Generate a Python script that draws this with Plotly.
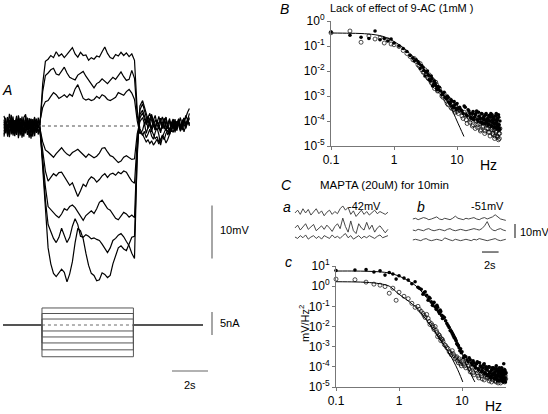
import numpy as np
import plotly.graph_objects as go

W, H = 548, 414
def px(x): return x / W
def py(y): return 1 - y / H

FONT = "Liberation Sans, Arial, sans-serif"

# ---------------- Panel A : voltage responses (mV) ----------------
A_T_PRE = [0.0, 0.1, 0.2, 0.3, 0.4, 0.5, 0.6, 0.7, 0.8, 0.9, 1.0, 1.1, 1.2, 1.3, 1.4, 1.5, 1.6, 1.7, 1.8, 1.9, 2.0]
A_T_STEP = [2.15, 2.3, 2.45, 2.6, 2.75, 2.9, 3.05, 3.2, 3.35, 3.5, 3.65, 3.8, 3.95, 4.1, 4.25, 4.4, 4.55, 4.7,
            4.85, 5.0, 5.15, 5.3, 5.45, 5.6, 5.75, 5.9, 6.05, 6.2, 6.35, 6.5, 6.65, 6.8, 6.95, 7.1, 7.25, 7.4, 7.55]
A_T_POST = [7.7, 7.8, 7.9, 8.0, 8.1, 8.2, 8.3, 8.4, 8.5, 8.6, 8.7, 8.8, 8.9, 9.0, 9.1, 9.2, 9.3, 9.4, 9.5,
            9.6, 9.7, 9.8, 9.9, 10.0, 10.1, 10.2, 10.3]

UP1_PRE = [0.8, -1.2, 1.5, -0.4, 0.9, -1.8, 0.3, 1.9, -0.7, 0.5, -1.5, 1.1, -0.2, 0.7, -1.9, 1.3, -0.6, 0.4, -1.1, 1.6, 0.2]
UP1_STEP = [8.0, 12.2,
            12.6, 13.3, 12.9, 14.0, 13.2, 13.6, 12.9, 13.5, 14.2, 14.8, 13.6, 13.0, 13.9, 13.3, 13.4, 12.4, 12.9,
            12.6, 13.2, 13.0, 14.0, 14.9, 13.7, 12.9, 12.7, 13.5, 13.2, 13.9, 13.3, 13.8, 13.1, 13.6, 12.4,
            3.0, -0.5]
UP1_POST = [-1.5, -2.4, -3.0, -2.6, -3.3, -2.8, -3.6, -3.1, -2.5, -3.4, -2.7, -1.9, -2.6, -1.4, -0.8, -1.6,
            -0.5, 0.6, -0.9, 0.2, 1.1, -0.4, 0.8, 1.5, 0.3, 1.2, 0.4]

UP2_PRE = [-1.0, 0.6, -1.7, 1.2, -0.3, 1.8, -1.3, 0.1, 1.4, -0.9, 0.8, -2.0, 0.9, -0.5, 1.5, -1.2, 0.6, 1.7, -0.8, -0.1, 0.5]
UP2_STEP = [6.5, 9.5,
            10.0, 10.6, 10.9, 9.8, 9.6, 10.4, 11.1, 10.0, 9.2, 8.9, 8.7, 9.6, 10.0, 10.3, 9.4, 8.6, 7.8, 7.2,
            8.0, 8.3, 8.9, 8.5, 8.0, 8.6, 9.2, 8.8, 9.4, 10.2, 9.3, 8.6, 8.8, 10.5, 9.0,
            2.0, -1.0]
UP2_POST = [-1.8, -1.0, -2.2, -1.5, -0.6, -1.9, -2.5, -1.2, -0.3, -1.6, -3.6, -2.1, -1.3, -0.4, -1.7, -0.9,
            0.5, -0.6, 1.0, -0.2, 0.7, -0.8, 1.2, 0.3, -0.5, 0.9, 1.6]

UP3_PRE = [1.9, 0.2, -0.9, 2.3, 0.4, -1.4, 1.0, -0.6, 2.0, 0.3, -1.0, 1.6, 2.2, -0.7, 0.2, 1.4, -1.5, 0.8, 1.2, -0.4, 0.9]
UP3_STEP = [3.5, 4.6,
            4.8, 5.6, 6.3, 5.9, 5.2, 5.5, 5.9, 5.4, 6.0, 5.6, 7.0, 7.8, 6.4, 5.2, 4.9, 5.1, 4.8, 5.0, 5.6, 5.2,
            5.9, 5.6, 5.0, 4.8, 5.1, 5.4, 6.3, 6.1, 5.8, 6.5, 6.9, 6.2, 5.0,
            1.0, -1.5]
UP3_POST = [-0.8, 0.6, -1.4, -0.3, 0.9, -1.1, 0.3, -0.7, 1.2, -0.2, -1.3, 0.5, -0.6, 1.0, 0.0, -1.4, 0.7,
            -0.3, 1.3, -0.9, 0.4, 1.6, -0.4, 0.8, 2.0, 1.1, 2.4]

DN1_PRE = [-1.6, 0.9, -0.2, -2.1, 1.1, -0.8, -1.9, 0.6, -1.3, 1.0, -2.2, -0.4, 0.5, -1.7, 0.3, -2.4, 0.1, -1.0, 0.7, -1.6, -0.6]
DN1_STEP = [-3.0, -4.5,
            -4.9, -5.4, -5.9, -5.2, -4.6, -4.1, -4.8, -5.3, -5.6, -5.0, -4.7, -4.4, -4.9, -5.5, -5.9, -5.3, -5.6,
            -6.0, -5.7, -5.1, -4.2, -4.1, -4.9, -5.6, -5.8, -6.3, -6.9, -6.6, -5.9, -5.6, -6.0, -6.3, -6.2,
            -1.5, 0.8]
DN1_POST = [1.6, 0.4, 1.2, -0.5, 0.8, 1.9, 0.2, -0.8, 1.0, 0.3, 1.5, -0.4, 0.6, 1.7, -0.6, 0.9, 0.1, 1.2,
            -0.9, 0.5, 1.4, -0.3, 0.7, -1.1, 0.4, 1.3, 0.0]

DN2_PRE = [0.4, -1.4, 1.7, 0.0, -0.9, 1.2, -1.6, 0.8, -0.3, 1.5, 0.2, -1.2, 1.9, -0.8, 0.6, -0.1, 1.3, -1.9, 0.4, 1.0, -0.9]
DN2_STEP = [-5.0, -8.5,
            -10.4, -9.6, -9.0, -9.4, -8.8, -8.7, -9.6, -10.5, -11.2, -10.7, -12.0, -13.3, -12.2, -11.0, -11.4,
            -10.2, -9.6, -9.9, -10.6, -10.1, -9.4, -9.0, -9.7, -9.1, -8.9, -9.3, -8.7, -9.0, -8.5, -8.7, -9.6,
            -10.4, -10.8,
            -3.0, 1.5]
DN2_POST = [2.5, 1.3, 0.2, 1.8, 0.6, -0.4, 1.1, 2.0, 0.3, -0.6, 0.9, 1.7, 0.0, -0.9, 0.5, 1.4, -0.2, 0.8,
            -1.2, 0.3, 1.0, -0.7, 0.6, 1.5, -0.3, 0.9, 0.2]

DN3_PRE = [-0.5, 1.6, -2.0, 0.7, 1.4, -1.1, 0.2, -1.7, 1.1, -0.6, 1.8, -1.4, -0.2, 1.0, -2.2, 0.8, -0.3, 1.5, -1.3, 0.3, -1.2]
DN3_STEP = [-6.5, -11.5,
            -15.2, -15.8, -16.4, -16.9, -17.3, -16.6, -15.6, -15.9, -15.2, -14.9, -15.4, -16.2, -17.2, -17.8,
            -16.9, -16.5, -16.0, -16.5, -15.6, -14.4, -14.0, -14.8, -15.6, -15.9, -16.6, -17.4, -17.7, -16.9,
            -16.3, -16.6, -17.2, -16.8, -17.3,
            -4.0, 2.2]
DN3_POST = [3.0, 2.1, 0.8, 1.6, 2.4, 1.0, -0.1, 1.2, 0.4, 1.8, 0.7, -0.5, 0.9, 1.6, 0.1, -0.8, 0.6, 1.3,
            -0.4, 0.9, 0.2, -1.0, 0.5, 1.1, -0.2, 0.6, 1.4]

DN4_PRE = [1.2, -0.6, 0.4, -1.5, 2.1, -0.2, 1.1, -1.0, 0.5, -1.8, 0.9, 0.1, -1.4, 1.6, -0.5, 0.6, -2.0, 1.0, -0.2, 0.8, 0.3]
DN4_STEP = [-7.5, -14.0,
            -18.6, -20.0, -21.2, -22.0, -21.0, -19.3, -20.5, -22.0, -21.0, -18.9, -17.5, -18.6, -20.8, -21.0,
            -20.5, -20.8, -21.3, -21.1, -21.4, -21.6, -22.3, -23.2, -23.9, -23.0, -21.6, -21.2, -20.6, -20.3,
            -20.9, -21.8, -22.6, -24.0, -25.0,
            -5.0, 3.0]
DN4_POST = [4.2, 3.0, 1.6, 0.5, 1.4, 2.2, 0.9, -0.3, 1.0, 0.2, -0.9, 0.6, 1.5, -0.4, 0.3, 1.0, -1.1, 0.2,
            0.9, -0.5, 1.3, 0.1, -0.8, 0.7, 1.9, 2.6, 3.3]

DN5_PRE = [-2.0, 0.3, -0.7, 1.0, -1.6, 0.7, -0.4, 1.3, -2.3, 0.0, -0.8, 1.2, -1.0, -0.3, 1.1, -1.4, 0.9, -0.9, 1.4, -1.1, -0.3]
DN5_STEP = [-8.5, -16.5,
            -23.0, -26.0, -27.8, -28.4, -27.6, -27.0, -27.6, -29.4, -27.9, -25.6, -22.0, -19.3, -19.8, -21.3,
            -24.0, -26.3, -27.8, -28.2, -29.2, -29.0, -27.7, -28.0, -28.6, -28.2, -26.0, -24.5, -23.0, -22.6,
            -23.2, -23.5, -22.4, -21.0, -20.8,
            -6.0, 3.8]
DN5_POST = [4.8, 3.6, 2.2, 1.0, 0.0, -0.8, -1.6, -2.4, -2.0, -3.0, -2.6, -1.7, -2.2, -3.2, -2.5, -1.5, -0.6,
            -1.2, 0.2, -0.5, 0.8, -0.2, 0.6, 1.4, 0.3, 1.0, 0.5]

A_TRACES = [
    (UP1_PRE, UP1_STEP, UP1_POST), (UP2_PRE, UP2_STEP, UP2_POST), (UP3_PRE, UP3_STEP, UP3_POST),
    (DN1_PRE, DN1_STEP, DN1_POST), (DN2_PRE, DN2_STEP, DN2_POST), (DN3_PRE, DN3_STEP, DN3_POST),
    (DN4_PRE, DN4_STEP, DN4_POST), (DN5_PRE, DN5_STEP, DN5_POST),
]

# current steps (nA)
I_LEVELS = [3.7, 2.5, 1.3, 0.0, -1.3, -2.6, -3.9, -5.4, -6.9]
T_START, STEP_ON, STEP_OFF, T_END = -0.05, 2.11, 7.19, 11.05

# ---------------- Panels B / C : power spectra ----------------
FREQ = [0.1, 0.2, 0.3, 0.4, 0.5, 0.6, 0.7, 0.8, 0.9, 1.0, 1.2, 1.4, 1.6, 1.8, 2.0,
        2.25, 2.5, 2.75, 3.0, 3.25, 3.5, 3.75, 4.0, 4.25, 4.5, 4.75, 5.0, 5.5, 6.0, 6.5, 7.0, 7.5, 8.0, 8.5,
        9.0, 9.5, 10.0,
        11, 12, 13, 14, 15, 16, 17, 18, 19, 20, 21, 22, 23, 24, 25, 26, 27, 28, 29, 30, 31, 32, 33, 34, 35,
        36, 37, 38, 39, 40, 41, 42, 43, 44, 45, 46, 47, 48, 49, 50]
FREQ2 = [2.1, 2.4, 2.6, 2.9, 3.1, 3.4, 3.6, 3.9, 4.1, 4.4, 4.6, 4.9, 5.25, 5.75, 6.25, 6.75, 7.25, 7.75, 8.25,
         8.75, 9.25, 9.75,
         10.5, 11.5, 12.5, 13.5, 14.5, 15.5, 16.5, 17.5, 18.5, 19.5, 20.5, 21.5, 22.5, 23.5, 24.5, 25.5, 26.5,
         27.5, 28.5, 29.5, 30.5, 31.5, 32.5, 33.5, 34.5, 35.5, 36.5, 37.5, 38.5, 39.5, 40.5, 41.5, 42.5, 43.5,
         44.5, 45.5, 46.5, 47.5, 48.5, 49.5]

# log10 of power (mV^2/Hz)
B_OPEN_LOG = [-0.47, -0.40, -0.85, -0.60, -0.72, -0.68, -0.88, -0.75, -0.92, -0.95, -1.02, -1.18, -1.30, -1.42, -1.55,
              -1.62, -1.80, -1.95, -2.05, -2.10, -2.30, -2.25, -2.50, -2.42, -2.62, -2.55, -2.78, -2.85, -3.05,
              -3.12, -3.30, -3.20, -3.45, -3.35, -3.55, -3.40, -3.62,
              -3.55, -3.80, -3.65, -3.95, -3.72, -4.05, -3.85, -4.15, -3.78, -4.00, -4.25, -3.90, -4.10, -4.35,
              -3.95, -4.20, -4.05, -4.40, -3.88, -4.15, -4.30, -4.02, -4.45, -4.18, -3.92, -4.28, -4.50, -4.10,
              -4.35, -4.60, -4.05, -4.40, -4.25, -4.65, -4.15, -4.50, -4.70, -4.30, -4.55, -4.75]
B_OPEN_LOG2 = [-1.50, -1.75, -1.70, -2.05, -1.95, -2.25, -2.15, -2.45, -2.35, -2.70, -2.45, -2.80, -2.70, -3.00,
               -2.90, -3.20, -3.35, -3.15, -3.50, -3.30, -3.65, -3.45,
               -3.70, -3.60, -3.90, -3.75, -4.10, -3.85, -3.95, -4.20, -3.80, -4.30, -4.00, -4.15, -3.85, -4.40,
               -4.05, -4.25, -3.95, -4.50, -4.10, -4.30, -4.00, -4.45, -4.20, -4.60, -4.05, -4.35, -4.15, -4.55,
               -4.25, -4.70, -4.10, -4.45, -4.30, -4.60, -4.20, -4.75, -4.35, -4.50, -4.65, -4.40]
B_FILL_LOG = [-0.44, -0.57, -0.65, -0.70, -0.40, -0.75, -0.70, -0.80, -0.72, -0.88, -1.00, -1.10, -1.22, -1.38, -1.48,
              -1.55, -1.70, -1.78, -1.98, -2.05, -2.15, -2.40, -2.30, -2.55, -2.48, -2.70, -2.62, -2.80, -2.92,
              -3.05, -3.00, -3.25, -3.15, -3.40, -3.22, -3.48, -3.30,
              -3.45, -3.60, -3.40, -3.75, -3.55, -3.70, -3.90, -3.62, -3.85, -3.70, -3.95, -3.65, -3.88, -4.05,
              -3.72, -3.92, -3.80, -4.10, -3.70, -3.95, -4.15, -3.78, -4.00, -3.85, -4.20, -3.75, -4.05, -3.90,
              -4.25, -3.80, -4.10, -3.70, -4.30, -3.95, -4.15, -3.85, -4.35, -4.00, -4.20, -4.40]
B_FILL_LOG2 = [-1.60, -1.62, -1.90, -1.85, -2.20, -2.00, -2.35, -2.20, -2.60, -2.40, -2.58, -2.75, -2.65, -2.95,
               -2.85, -3.10, -3.05, -3.30, -3.20, -3.45, -3.35, -3.55,
               -3.50, -3.55, -3.70, -3.45, -3.80, -3.60, -3.85, -3.70, -3.95, -3.75, -3.60, -4.00, -3.80, -3.90,
               -3.70, -4.10, -3.85, -3.95, -3.75, -4.05, -3.90, -4.15, -3.80, -4.00, -3.70, -4.20, -3.95, -3.85,
               -4.10, -3.95, -4.25, -3.80, -4.05, -3.90, -4.20, -3.75, -4.15, -4.30, -3.95, -4.10]
B_FIT_F = [0.1, 0.2, 0.3, 0.5, 0.7, 1.0, 1.5, 2.0, 3.0, 4.0, 5.0, 6.0, 7.0, 8.0, 10.0, 12.9]
B_FIT_LOG = [-0.48, -0.49, -0.50, -0.55, -0.63, -0.82, -1.12, -1.42, -1.92, -2.30, -2.65, -2.95, -3.20, -3.45, -4.00, -4.62]

C_FILL_LOG = [0.78, 0.80, 0.82, 0.70, 0.76, 0.55, 0.68, 0.60, 0.35, 0.52, 0.40, 0.30, 0.12, 0.22, -0.05,
              -0.15, -0.32, -0.45, -0.55, -0.78, -0.85, -1.02, -0.95, -1.25, -1.18, -1.45, -1.50, -1.72, -1.95,
              -2.20, -2.35, -2.55, -2.70, -2.90, -3.05, -3.10, -3.25,
              -3.45, -3.65, -3.55, -3.80, -3.70, -3.95, -3.85, -4.10, -3.80, -4.00, -4.20, -3.90, -4.30, -4.00,
              -4.15, -4.40, -4.00, -4.25, -4.45, -4.05, -4.35, -4.55, -4.10, -4.40, -3.95, -4.60, -4.20, -4.45,
              -4.05, -4.65, -4.25, -4.50, -4.15, -4.70, -4.30, -3.85, -4.55, -4.20, -4.75, -4.35]
C_FILL_LOG2 = [-0.10, -0.40, -0.28, -0.70, -0.60, -0.95, -0.80, -1.15, -1.05, -1.35, -1.25, -1.60, -1.55, -1.85,
               -2.05, -2.25, -2.45, -2.60, -2.85, -2.95, -3.20, -3.30,
               -3.55, -3.50, -3.75, -3.65, -3.90, -3.80, -4.05, -3.75, -4.15, -3.95, -4.25, -4.05, -3.85, -4.35,
               -4.10, -4.45, -4.00, -4.30, -4.55, -4.15, -4.40, -4.05, -4.60, -4.25, -4.50, -4.10, -4.70, -4.30,
               -4.45, -4.15, -4.65, -4.35, -4.05, -4.55, -4.25, -4.75, -4.40, -4.15, -4.60, -4.30]
C_OPEN_LOG = [0.35, 0.32, 0.20, 0.10, 0.05, -0.02, -0.35, -0.10, -0.70, -0.30, -0.50, -0.62, -0.85, -1.05, -1.00,
              -1.25, -1.45, -1.40, -1.75, -1.85, -2.05, -2.00, -2.30, -2.40, -2.55, -2.62, -2.75, -2.95, -3.10,
              -3.30, -3.20, -3.45, -3.55, -3.70, -3.60, -3.85, -3.75,
              -3.95, -3.80, -4.10, -4.00, -4.30, -3.90, -4.20, -4.45, -4.10, -4.35, -4.60, -4.20, -4.40, -4.05,
              -4.55, -4.30, -4.70, -4.15, -4.45, -4.25, -4.65, -4.35, -4.10, -4.55, -4.75, -4.30, -4.50, -4.20,
              -4.65, -4.40, -4.80, -4.25, -4.55, -4.35, -4.70, -4.15, -4.45, -4.60, -4.30, -4.75]
C_OPEN_LOG2 = [-1.15, -1.35, -1.55, -1.60, -1.90, -1.95, -2.15, -2.20, -2.50, -2.45, -2.70, -2.65, -2.90, -3.05,
               -3.25, -3.40, -3.35, -3.60, -3.50, -3.80, -3.70, -3.95,
               -3.85, -4.05, -3.95, -4.25, -4.05, -4.40, -4.15, -4.30, -4.55, -4.20, -4.45, -4.10, -4.65, -4.35,
               -4.25, -4.50, -4.15, -4.60, -4.40, -4.75, -4.30, -4.50, -4.20, -4.70, -4.45, -4.35, -4.60, -4.80,
               -4.25, -4.55, -4.40, -4.70, -4.30, -4.50, -4.65, -4.20, -4.55, -4.75, -4.45, -4.60]
C_FIT_FILL_F = [0.1, 0.2, 0.3, 0.5, 0.7, 1.0, 1.5, 2.0, 3.0, 4.0, 5.0, 6.0, 7.0, 8.0, 10.0, 12.0, 14.0, 16.0]
C_FIT_FILL_LOG = [0.75, 0.75, 0.74, 0.71, 0.65, 0.50, 0.22, -0.08, -0.72, -1.22, -1.60, -1.88, -2.20, -2.55, -3.35, -3.95, -4.40, -4.75]
C_FIT_OPEN_F = [0.1, 0.2, 0.3, 0.5, 0.7, 1.0, 1.5, 2.0, 3.0, 4.0, 5.0, 6.0, 7.0, 8.0, 9.0, 10.3]
C_FIT_OPEN_LOG = [0.22, 0.21, 0.19, 0.12, 0.0, -0.40, -0.80, -1.15, -1.85, -2.40, -2.85, -3.25, -3.60, -3.95, -4.30, -4.75]

# ---------------- Panel C a/b : voltage traces (mV) ----------------
CA_T = [0.6, 0.92, 1.24, 1.56, 1.88, 2.2, 2.52, 2.84, 3.16, 3.48, 3.8, 4.12, 4.44, 4.76, 5.08, 5.4, 5.72, 6.04,
        6.36, 6.68, 7.0, 7.32, 7.64, 7.96, 8.28, 8.6, 8.92, 9.24, 9.56, 9.88, 10.2, 10.52, 10.84, 11.16, 11.48, 11.8]
CB_T = [14.8, 15.12, 15.44, 15.76, 16.08, 16.4, 16.72, 17.04, 17.36, 17.68, 18.0, 18.32, 18.64, 18.96, 19.28,
        19.6, 19.92, 20.24, 20.56, 20.88, 21.2, 21.52, 21.84, 22.16, 22.48, 22.8, 23.12, 23.44, 23.76, 24.08,
        24.4, 24.72, 25.04, 25.36, 25.68, 26.0]
CA1 = [0, 2, -1, 3, 0, 2.5, -1.5, 1, 3, -0.5, 1.5, -2, 0.5, 2, -1, 1, -0.5, 3, 5, 2, 4, -1, 1.5, -2.5, 0, 2,
       -1, 1, -1.5, 0.5, 2, -0.5, 1, 0, -1, 0.5]
CA2 = [0, 2, -1.5, 1, 3, -1, 0.5, 2.5, -2, 0, 1.5, -1, 2, 0, -2.5, 1, 3, -0.5, 7, 1, -3, 5, -2, -4, 3, 0,
       -1.5, 4, -1, 2, -3, 0, 1.5, -1, -3.5, -1]
CA3 = [0, -1, 1, -0.5, 1.5, -1.5, 0, 1, -1, 0.5, -1.5, 1, 0, -1, 1.5, -0.5, 0.5, -1, 1, 2.5, -0.5, 1, -1.5, 0,
       1, -1, 0.5, -0.5, 1, 0, -1, 0.5, 1.5, -0.5, 0, 1]
CB1 = [0, 0.5, -0.5, 0, 1, 0.5, -0.5, 0, 0.5, 1.5, 0, -0.5, 0.5, 0, -0.5, 0.5, 2, 0.5, 0, -0.5, 0.5, 0, 0.5, 1,
       0, -0.5, 0.5, 1, 0, 0.5, 1.5, 3, 1.5, 0, -0.5, -1]
CB2 = [0, -0.5, 0.5, 0, -0.5, 0.5, 1, 0, -0.5, 0, 0.5, 0, -0.5, 0.5, 1, 0, -0.5, 0, 0.5, 0, -0.5, 0, 0.5, 1,
       0.5, 0, 1, 3, 6, 2, 0, -0.5, 0.5, 1, 0, -0.5]
CB3 = [0, 0.5, 0, -0.5, 0.5, 1, 0, -0.5, 0, 0.5, 0, -0.5, 1.5, 0.5, 0, -0.5, 0.5, 0, -0.5, 0, 0.5, 0, -0.5, 0.5,
       0, 1, 0.5, 0, -0.5, 0, 0.5, 1, 0, -0.5, 0, 0.5]

SCALE_MV, SCALE_NA, SCALE_S = 10, 5, 2

# ============================================================
fig = go.Figure()

# Panel A voltage
t_all = A_T_PRE + A_T_STEP + A_T_POST
for pre, step, post in A_TRACES:
    fig.add_trace(go.Scatter(x=t_all, y=pre + step + post, mode="lines",
                             line=dict(color="black", width=1.2), xaxis="x", yaxis="y"))
fig.add_trace(go.Scatter(x=[STEP_ON, STEP_OFF + 0.15], y=[0, 0], mode="lines",
                         line=dict(color="#222", width=0.8, dash="dot"), xaxis="x", yaxis="y"))

# Panel A current
for lv in I_LEVELS:
    if lv == 0:
        fig.add_trace(go.Scatter(x=[T_START, STEP_ON, None, STEP_OFF, T_END], y=[0, 0, None, 0, 0],
                                 mode="lines", line=dict(color="#444", width=1), xaxis="x", yaxis="y2"))
        fig.add_trace(go.Scatter(x=[STEP_ON, STEP_OFF], y=[0, 0], mode="lines",
                                 line=dict(color="#444", width=0.8, dash="dot"), xaxis="x", yaxis="y2"))
    else:
        fig.add_trace(go.Scatter(x=[T_START, STEP_ON, STEP_ON, STEP_OFF, STEP_OFF, T_END],
                                 y=[0, 0, lv, lv, 0, 0], mode="lines",
                                 line=dict(color="#555", width=1), xaxis="x", yaxis="y2"))

# Spectra
mk_fill = dict(symbol="circle", size=3.6, color="black")
mk_open = dict(symbol="circle-open", size=4, color="black", line=dict(width=0.7))

def spec(freqs, logs, marker, xa, ya):
    fig.add_trace(go.Scatter(x=freqs, y=10 ** np.array(logs), mode="markers", marker=marker,
                             xaxis=xa, yaxis=ya, cliponaxis=False))

def fit(freqs, logs, xa, ya):
    fig.add_trace(go.Scatter(x=freqs, y=10 ** np.array(logs), mode="lines", line=dict(color="black", width=1),
                             line_shape="spline", xaxis=xa, yaxis=ya))

spec(FREQ + FREQ2, B_FILL_LOG + B_FILL_LOG2, mk_fill, "x2", "y3")
spec(FREQ + FREQ2, B_OPEN_LOG + B_OPEN_LOG2, mk_open, "x2", "y3")
fit(B_FIT_F, B_FIT_LOG, "x2", "y3")

spec(FREQ + FREQ2, C_FILL_LOG + C_FILL_LOG2, mk_fill, "x3", "y4")
spec(FREQ + FREQ2, C_OPEN_LOG + C_OPEN_LOG2, mk_open, "x3", "y4")
fit(C_FIT_FILL_F, C_FIT_FILL_LOG, "x3", "y4")
fit(C_FIT_OPEN_F, C_FIT_OPEN_LOG, "x3", "y4")

# Panel C a/b traces
A_OFFS = [13.6, 2.9, -3.6]
B_OFFS = [9.3, 1.4, -5.7]
for tr, off in zip([CA1, CA2, CA3], A_OFFS):
    fig.add_trace(go.Scatter(x=CA_T, y=np.array(tr) + off, mode="lines",
                             line=dict(color="#333", width=0.9), xaxis="x4", yaxis="y5"))
for tr, off in zip([CB1, CB2, CB3], B_OFFS):
    fig.add_trace(go.Scatter(x=CB_T, y=np.array(tr) + off, mode="lines",
                             line=dict(color="#333", width=0.9), xaxis="x4", yaxis="y5"))

# ---------------- layout ----------------
noax = dict(visible=False, showgrid=False, zeroline=False, fixedrange=True)
logax = dict(showline=True, linecolor="#777", linewidth=1, ticks="outside", ticklen=3, tickcolor="#777",
             showgrid=False, zeroline=False, tickfont=dict(size=12, color="black", family=FONT), mirror=False,
             automargin=False)
ysup = lambda exps: ["10<sup>%d</sup>" % e for e in exps]

fig.update_layout(
    width=W, height=H, margin=dict(l=0, r=0, t=0, b=0, pad=0, autoexpand=False),
    paper_bgcolor="white", plot_bgcolor="rgba(0,0,0,0)", showlegend=False,
    font=dict(family=FONT, color="black"),
    xaxis=dict(domain=[0, px(240)], range=[(0 - 4) / 18, (240 - 4) / 18], anchor="y", **noax),
    yaxis=dict(domain=[py(290), py(30)], range=[(126 - 290) / 5.3, (126 - 30) / 5.3], anchor="x", **noax),
    yaxis2=dict(domain=[py(400), py(292)], range=[(325 - 400) / 4.6, (325 - 292) / 4.6], anchor="x", **noax),
    xaxis2=dict(domain=[px(331), px(500)], type="log", range=[-1, -1 + 169 / 63], anchor="y3",
                tickvals=[0.1, 1, 10], ticktext=["0.1", "1", "10"], **logax),
    yaxis3=dict(domain=[py(146), py(21)], type="log", range=[-5, 0], anchor="x2",
                tickvals=[1, 0.1, 0.01, 1e-3, 1e-4, 1e-5], ticktext=ysup([0, -1, -2, -3, -4, -5]), **logax),
    xaxis3=dict(domain=[px(336), px(506)], type="log", range=[-1, -1 + 170 / 63], anchor="y4",
                tickvals=[0.1, 1, 10], ticktext=["0.1", "1", "10"], **logax),
    yaxis4=dict(domain=[py(387), py(266)], type="log", range=[-5, 1], anchor="x3",
                tickvals=[10, 1, 0.1, 0.01, 1e-3, 1e-4, 1e-5], ticktext=ysup([1, 0, -1, -2, -3, -4, -5]), **logax),
    xaxis4=dict(domain=[px(290), 1], range=[0, 258 / 8.3], anchor="y5", **noax),
    yaxis5=dict(domain=[py(258), py(195)], range=[(232 - 258) / 1.4, (232 - 195) / 1.4], anchor="x4", **noax),
)

# scale bars
xa_bar = (212 - 4) / 18
shapes = [
    dict(type="line", xref="x", yref="y", x0=xa_bar, x1=xa_bar, y0=-15, y1=-15 - SCALE_MV,
         line=dict(color="#888", width=1.5)),
    dict(type="line", xref="x", yref="y2", x0=xa_bar, x1=xa_bar, y0=2.8, y1=2.8 - SCALE_NA,
         line=dict(color="#888", width=1.5)),
    dict(type="line", xref="x", yref="y2", x0=(172 - 4) / 18, x1=(172 - 4) / 18 + SCALE_S, y0=-10, y1=-10,
         line=dict(color="#666", width=1.2)),
    dict(type="line", xref="x4", yref="y5", x0=(515 - 290) / 8.3, x1=(515 - 290) / 8.3, y0=5.7, y1=5.7 - SCALE_MV,
         line=dict(color="#333", width=1.2)),
    dict(type="line", xref="x4", yref="y5", x0=(482 - 290) / 8.3, x1=(482 - 290) / 8.3 + SCALE_S,
         y0=-14.3, y1=-14.3, line=dict(color="#333", width=1.2)),
]
fig.update_layout(shapes=shapes)

def ann(x, y, text, size=11, xanchor="left", angle=0):
    return dict(x=px(x), y=py(y), xref="paper", yref="paper", text=text, showarrow=False,
                xanchor=xanchor, yanchor="middle", textangle=angle, borderpad=0,
                font=dict(size=size, family=FONT, color="black"))

annotations = [
    ann(1, 90, "<i>A</i>", 14),
    ann(219, 230, "10mV", 11),
    ann(219, 323, "5nA", 11),
    ann(190, 385, "2s", 11, "center"),
    ann(279, 9, "<i>B</i>", 14),
    ann(329, 8, "Lack of effect of 9-AC (1mM )", 11),
    ann(488, 165, "Hz", 14, "center"),
    ann(280, 185, "<i>C</i>", 14),
    ann(319, 185, "MAPTA (20uM) for 10min", 11.5),
    ann(282, 207, "<i>a</i>", 14),
    ann(364, 206, "-42mV", 11, "center"),
    ann(416, 207, "<i>b</i>", 14),
    ann(487, 206, "-51mV", 11, "center"),
    ann(519, 232, "10mV", 11),
    ann(490, 265, "2s", 11, "center"),
    ann(284, 262, "<i>c</i>", 14),
    ann(304, 324, "mV/Hz<sup>2</sup>", 11, "center", -90),
    ann(493, 406, "Hz", 14, "center"),
]
fig.update_layout(annotations=annotations)

fig.write_html("out.html", config={"displayModeBar": False, "staticPlot": True},
               post_script="document.body.style.margin='0px';document.body.style.overflow='hidden';")
